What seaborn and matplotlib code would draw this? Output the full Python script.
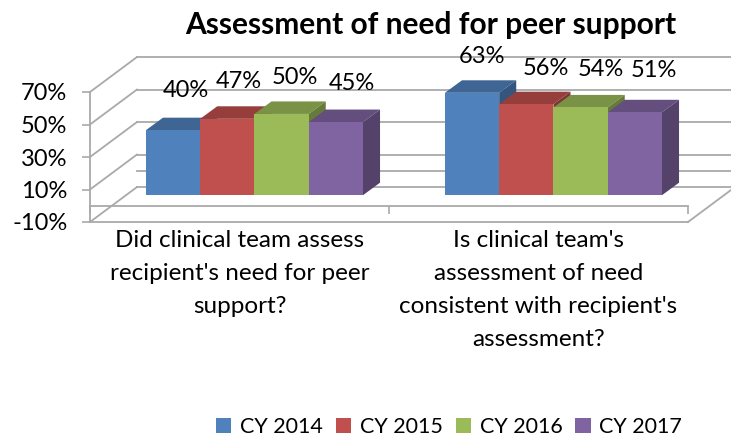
import matplotlib
matplotlib.use("Agg")
import matplotlib.pyplot as plt
import pandas as pd
import seaborn as sns
from matplotlib.colors import to_rgb
from matplotlib.patches import Polygon

categories = ["Did clinical team assess\nrecipient's need for peer\nsupport?",
              "Is clinical team's\nassessment of need\nconsistent with recipient's\nassessment?"]
years = ["CY 2014", "CY 2015", "CY 2016", "CY 2017"]
first_values = [40, 47, 50, 45]
second_values = [63, 56, 54, 51]
colors = ["#4F81BD", "#C0504D", "#9BBB59", "#8064A2"]
yticks = [-10, 10, 30, 50, 70]

# fake 3d depth, in data units
BAR_SHIFT = (0.05, 6.5)
BAR_DEPTH = (0.057, 7.7)
WALL_DEPTH = (0.157, 21.5)
GREY = "#a9a9a9"

# where the value labels sit relative to the bar top (pixels)
label_offsets = [(13, 40), (11, 37), (13, 36), (16, 39), (10, 36), (20, 36), (20, 38), (19, 42)]

df = pd.DataFrame({
    "question": [categories[0]] * 4 + [categories[1]] * 4,
    "year": years * 2,
    "value": first_values + second_values,
})

plt.rcParams["font.family"] = ["Lato", "DejaVu Sans"]
fig = plt.figure(figsize=(7.31, 4.37), dpi=100)
ax = fig.add_axes([90 / 731, 1 - 222 / 437, 598 / 731, 130 / 437])
sns.barplot(data=df, x="question", y="value", hue="year", palette=colors,
            saturation=1, width=0.726, gap=0, ax=ax, zorder=3)
ax.set_xlim(-0.5, 1.5)
ax.set_ylim(-10, 70)
handles, labels = ax.get_legend_handles_labels()

# back wall and left wall lines
dx, dy = WALL_DEPTH
for t in yticks + [0]:
    ax.plot([-0.5 + dx, 1.5 + dx], [t + dy, t + dy], color=GREY, lw=1.3, clip_on=False, zorder=1)
for t in yticks:
    ax.plot([-0.5, -0.5 + dx], [t, t + dy], color=GREY, lw=1.3, clip_on=False, zorder=1)
ax.plot([1.5, 1.5 + dx], [-10, -10 + dy], color=GREY, lw=1.3, clip_on=False, zorder=1)
ax.plot([-0.5, 1.5], [-10, -10], color=GREY, lw=1.3, clip_on=False, zorder=2)

# push the bars back and give them a top and a side
# (seaborn leaves empty patches behind for the legend, skip those)
bars = sorted([p for p in ax.patches if p.get_height() > 0], key=lambda p: p.get_x())
for i, bar in enumerate(bars):
    bar.set_x(bar.get_x() + BAR_SHIFT[0])
    bar.set_y(bar.get_y() + BAR_SHIFT[1])
    bar.set_clip_on(False)
    bar.set_zorder(3 + i * 0.1 + 0.05)
    x0, x1 = bar.get_x(), bar.get_x() + bar.get_width()
    y0, y1 = bar.get_y(), bar.get_y() + bar.get_height()
    ddx, ddy = BAR_DEPTH
    rgb = to_rgb(bar.get_facecolor())
    top = tuple(c * 0.78 for c in rgb)
    side = tuple(c * 0.66 for c in rgb)
    ax.add_patch(Polygon([(x0, y1), (x1, y1), (x1 + ddx, y1 + ddy), (x0 + ddx, y1 + ddy)],
                         facecolor=top, edgecolor="none", clip_on=False, zorder=3 + i * 0.1))
    ax.add_patch(Polygon([(x1, y0), (x1, y1), (x1 + ddx, y1 + ddy), (x1 + ddx, y0 + ddy)],
                         facecolor=side, edgecolor="none", clip_on=False, zorder=3 + i * 0.1))
    ax.annotate(f"{bar.get_height():.0f}%", (x0 + bar.get_width() / 2, y1),
                xytext=label_offsets[i], textcoords="offset pixels",
                ha="center", va="center", fontsize=17, color="black", zorder=6)

# axes
ax.set_xlabel("")
ax.set_ylabel("")
ax.set_yticks(yticks)
ax.set_yticklabels([f"{t}%" for t in yticks])
ax.set_xticks([0, 1])
ax.set_xticklabels([])
ax.set_xticks([-0.5, 0.5, 1.5], minor=True)
ax.tick_params(axis="x", which="major", length=0)
ax.tick_params(axis="x", which="minor", length=5.8, width=1.2, color=GREY)
ax.tick_params(axis="y", length=5.8, width=1.2, color=GREY, pad=10.5, labelsize=17)

# tick labels ignore linespacing here, so the category labels are placed by hand
for i, cat in enumerate(categories):
    ax.annotate(cat, (i, 0), xytext=(0, -24), textcoords="offset pixels",
                ha="center", va="top", fontsize=17.5, linespacing=1.72, annotation_clip=False)

ax.spines["top"].set_visible(False)
ax.spines["right"].set_visible(False)
ax.spines["left"].set_color(GREY)
ax.spines["left"].set_linewidth(1.3)
ax.spines["bottom"].set_color(GREY)
ax.spines["bottom"].set_linewidth(1.3)
ax.spines["bottom"].set_position(("data", 0))
ax.patch.set_alpha(0)

ax.set_title("Assessment of need for peer support", x=0.57, y=1.38,
             fontsize=21.5, fontweight="bold")

ax.legend(handles, labels, ncol=4, frameon=False, fontsize=15.5,
          loc="center", bbox_to_anchor=(449 / 731, 1 - 427 / 437), bbox_transform=fig.transFigure,
          handlelength=0.72, handleheight=0.72, handletextpad=0.4, columnspacing=0.6)

fig.savefig("out.png", dpi=100)
